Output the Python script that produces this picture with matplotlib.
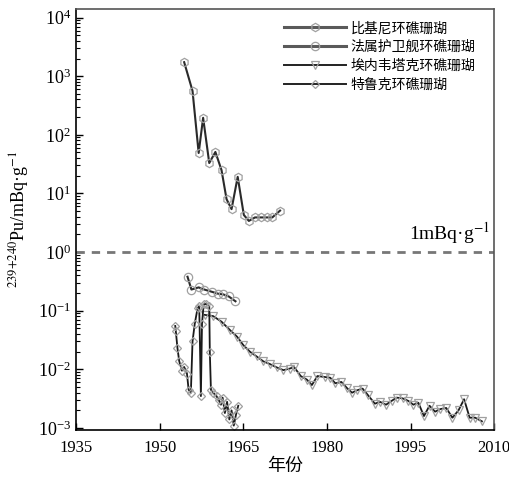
import numpy as np
import matplotlib
matplotlib.use("Agg")
import matplotlib.pyplot as plt
from matplotlib.ticker import LogLocator, NullFormatter

plt.rcParams["font.family"] = ["Liberation Serif", "Noto Sans CJK SC", "DejaVu Sans"]
plt.rcParams["mathtext.fontset"] = "stix"

# ---- data ----
bikini_year = [1954.4, 1955.9, 1957.0, 1957.8, 1958.9, 1960.0, 1961.1, 1962.0, 1962.9,
               1964.0, 1965.1, 1966.0, 1967.1, 1968.1, 1969.2, 1970.2, 1971.6]
bikini_val = [1730, 560, 49, 195, 33, 51, 25, 8.0, 5.4,
              19.2, 4.3, 3.4, 3.9, 3.9, 3.9, 3.9, 5.1]

ffs_year = [1955.0, 1955.7, 1957.0, 1958.0, 1959.4, 1960.5, 1961.4, 1962.4, 1963.6]
ffs_val = [0.38, 0.23, 0.25, 0.23, 0.21, 0.195, 0.19, 0.175, 0.145]

enew_year = [1958.1, 1959.6, 1961.1, 1962.6, 1963.9, 1965.0, 1966.2, 1967.4, 1968.6,
             1969.8, 1971.0, 1972.2, 1973.3, 1974.1, 1975.3, 1976.4, 1977.3, 1978.3,
             1979.7, 1980.6, 1981.5, 1982.6, 1983.6, 1984.5, 1985.4, 1986.4, 1987.4,
             1988.6, 1989.5, 1990.6, 1991.6, 1992.5, 1993.6, 1994.6, 1995.5, 1996.4,
             1997.4, 1998.4, 1999.4, 2000.3, 2001.4, 2002.5, 2003.6, 2004.6, 2005.6,
             2006.6, 2007.8]
enew_val = [0.085, 0.081, 0.065, 0.047, 0.036, 0.026, 0.020, 0.0166, 0.0137,
            0.0123, 0.0108, 0.0097, 0.0103, 0.011, 0.0077, 0.0067, 0.0054, 0.0077,
            0.0074, 0.0072, 0.0058, 0.0061, 0.0048, 0.0040, 0.0044, 0.0047, 0.0036,
            0.0026, 0.0028, 0.0025, 0.0029, 0.0033, 0.0032, 0.0029, 0.0025, 0.0027,
            0.0016, 0.0024, 0.0019, 0.0021, 0.0022, 0.0015, 0.0020, 0.0031, 0.0015,
            0.0015, 0.0013]

truk_year = [1952.8, 1952.9, 1953.2, 1953.5, 1954.0, 1954.4, 1954.9, 1955.2, 1955.6,
             1955.9, 1956.3, 1956.8, 1957.1, 1957.4, 1957.6, 1957.9, 1958.3, 1958.9,
             1959.0, 1959.2, 1959.6, 1960.2, 1960.6, 1961.0, 1961.3, 1961.7, 1962.1,
             1962.5, 1962.9, 1963.3, 1963.7, 1964.1]
truk_val = [0.055, 0.045, 0.023, 0.014, 0.0095, 0.011, 0.0085, 0.0045, 0.004,
            0.03, 0.06, 0.11, 0.12, 0.0035, 0.06, 0.13, 0.13, 0.12,
            0.02, 0.0045, 0.004, 0.0035, 0.003, 0.0025, 0.0033, 0.0018, 0.0028,
            0.0014, 0.002, 0.0011, 0.0017, 0.0024]

labels = ["比基尼环礁珊瑚", "法属护卫舰环礁珊瑚", "埃内韦塔克环礁珊瑚", "特鲁克环礁珊瑚"]
xticks = [1935, 1950, 1965, 1980, 1995, 2010]
cjk = ["Noto Sans CJK SC", "DejaVu Sans"]

fig = plt.figure(figsize=(5.10, 4.84), dpi=100)
ax = fig.add_axes([0.149, 0.112, 0.820, 0.870])

mk = dict(mfc="none", mec="#a0a0a0", ms=6, mew=0.9)
ax.plot(bikini_year, bikini_val, color="#2a2a2a", lw=1.5, marker="h", **mk)
ax.plot(ffs_year, ffs_val, color="#2a2a2a", lw=1.5, marker="o", **mk)
ax.plot(enew_year, enew_val, color="#1a1a1a", lw=1.3, marker="v", **mk)
ax.plot(truk_year, truk_val, color="#1a1a1a", lw=1.3, marker="D",
        mfc="none", mec="#a0a0a0", ms=4.5, mew=0.9)

# legend proxies: first two drawn thicker grey, as in the reference key
h1, = ax.plot([], [], color="#5a5a5a", lw=2.2, marker="h", **mk)
h2, = ax.plot([], [], color="#5a5a5a", lw=2.2, marker="o", **mk)
h3, = ax.plot([], [], color="#222222", lw=1.4, marker="v", **mk)
h4, = ax.plot([], [], color="#222222", lw=1.4, marker="D",
              mfc="none", mec="#a0a0a0", ms=4.5, mew=0.9)

ax.axhline(1.0, color="#777777", lw=2, ls=(0, (3, 2.5)))
ax.text(2009.2, 1.25, "1mBq·g$^{-1}$", ha="right", va="bottom", fontsize=14)

ax.set_yscale("log")
ax.set_xlim(1935, 2010)
ax.set_ylim(10 ** -3.03, 10 ** 4.15)
ax.set_xticks(xticks)
ax.set_xticklabels([str(t) for t in xticks])
ax.yaxis.set_major_locator(LogLocator(base=10, numticks=20))
ax.yaxis.set_minor_locator(LogLocator(base=10, subs=np.arange(2, 10), numticks=20))
ax.yaxis.set_minor_formatter(NullFormatter())
ax.tick_params(axis="both", which="major", direction="in", length=5, width=1)
ax.tick_params(axis="y", which="major", labelsize=13)
ax.tick_params(axis="y", which="minor", direction="in", length=3, width=0.8)
ax.tick_params(axis="x", labelsize=12, pad=7)
for s in ax.spines.values():
    s.set_linewidth(1.2)
ax.spines["top"].set_color("#555555")
ax.spines["right"].set_color("#555555")

ax.set_xlabel("年份", fontsize=13, family=cjk, labelpad=1)
ax.set_ylabel("$^{239{+}240}$Pu/mBq·g$^{-1}$", fontsize=13, labelpad=5)

ax.legend([h1, h2, h3, h4], labels, loc="upper right", frameon=False,
          handlelength=4.5, labelspacing=0.35, handletextpad=0.3,
          bbox_to_anchor=(0.985, 1.0), prop={"family": cjk, "size": 10})

fig.savefig("out.png", dpi=100)
